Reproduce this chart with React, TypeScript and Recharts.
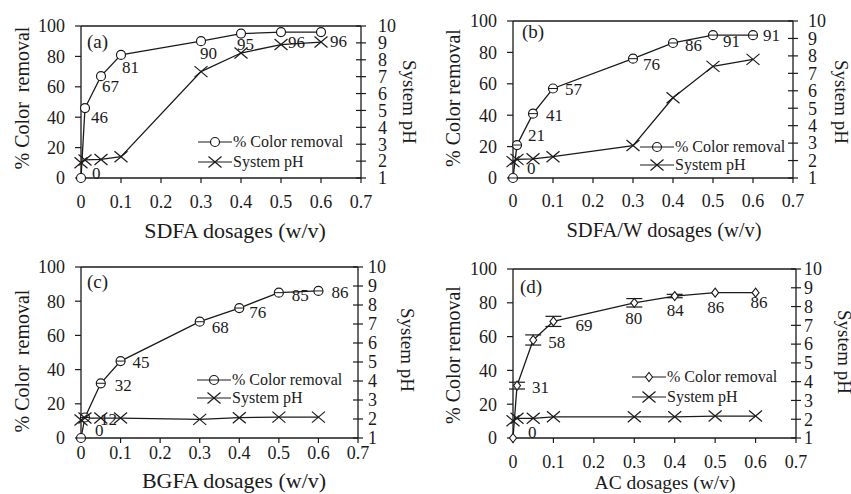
import React from "react";
import {
  LineChart,
  Line,
  XAxis,
  YAxis,
  ReferenceLine,
  LabelList,
  Label,
  Legend,
  ErrorBar,
} from "recharts";

const FONT = "Liberation Serif, DejaVu Serif, serif";
const INK = "#1b1b1b";

// shared axes
const DOSE = [0, 0.01, 0.05, 0.1, 0.3, 0.4, 0.5, 0.6];
const DOSE_TICKS = [0, 0.1, 0.2, 0.3, 0.4, 0.5, 0.6, 0.7];
const REMOVAL_TICKS = [0, 20, 40, 60, 80, 100];
const PH_TICKS = [1, 2, 3, 4, 5, 6, 7, 8, 9, 10];

// (a) SDFA
const SDFA_REMOVAL = [0, 46, 67, 81, 90, 95, 96, 96];
const SDFA_PH = [1.9, 2.07, 2.1, 2.26, 7.3, 8.4, 8.9, 9.05];
// (b) SDFA/W
const SDFAW_REMOVAL = [0, 21, 41, 57, 76, 86, 91, 91];
const SDFAW_PH = [1.94, 2.07, 2.1, 2.22, 2.86, 5.6, 7.4, 7.8];
// (c) BGFA
const BGFA_REMOVAL = [0, 12, 32, 45, 68, 76, 85, 86];
const BGFA_PH = [1.95, 2.05, 2.05, 2.05, 1.98, 2.07, 2.1, 2.1];
// (d) AC
const AC_REMOVAL = [0, 31, 58, 69, 80, 84, 86, 86];
const AC_ERROR = [0, 2, 3, 3, 2.5, 1, 0, 0];
const AC_PH = [1.92, 2.05, 2.05, 2.13, 2.13, 2.13, 2.17, 2.17];

type Marker = "circle" | "circleBar" | "diamond";

interface PanelCfg {
  letter: string;
  xTitle: string;
  yTitle: string;
  removal: number[];
  ph: number[];
  err?: number[];
  marker: Marker;
  left: number;
  top: number;
  width: number;
  height: number;
  mTop: number;
  rightW: number;
  xH: number;
  xTickMargin: number;
  rightGap: number;
  xTitlePos: [number, number, number];
  yTitlePos: [number, number];
  rTitlePos: [number, number];
  legendPos: [number, number, number];
  letterPos: [number, number];
  labelOffsets: number[][];
}

const PANELS: PanelCfg[] = [
  {
    letter: "(a)",
    xTitle: "SDFA dosages (w/v)",
    yTitle: "% Color  removal",
    removal: SDFA_REMOVAL,
    ph: SDFA_PH,
    marker: "circle",
    left: 0,
    top: 0,
    width: 428,
    height: 245,
    mTop: 26,
    rightW: 67,
    xH: 67,
    xTickMargin: 12,
    rightGap: 17,
    xTitlePos: [235, 230, 22],
    yTitlePos: [22, 98],
    rTitlePos: [410, 102],
    legendPos: [198, 132, 20],
    letterPos: [87, 31],
    labelOffsets: [
      [11, -5], [6, 9], [1, 10], [1, 12], [-1, 12], [-4, 10], [7, 10], [9, 9],
    ],
  },
  {
    letter: "(b)",
    xTitle: "SDFA/W dosages (w/v)",
    yTitle: "% Color removal",
    removal: SDFAW_REMOVAL,
    ph: SDFAW_PH,
    marker: "circleBar",
    left: 432,
    top: 0,
    width: 419,
    height: 245,
    mTop: 21,
    rightW: 58,
    xH: 67,
    xTickMargin: 11,
    rightGap: 15,
    xTitlePos: [232, 230, 20.5],
    yTitlePos: [21, 98],
    rTitlePos: [410, 102],
    legendPos: [208, 138, 18],
    letterPos: [90, 21],
    labelOffsets: [
      [14, -10], [11, -10], [13, 1], [12, 1], [10, 5], [12, 2], [10, 6], [10, 0],
    ],
  },
  {
    letter: "(c)",
    xTitle: "BGFA dosages (w/v)",
    yTitle: "% Color  removal",
    removal: BGFA_REMOVAL,
    ph: BGFA_PH,
    marker: "circleBar",
    left: 0,
    top: 250,
    width: 428,
    height: 244,
    mTop: 17,
    rightW: 70,
    xH: 56,
    xTickMargin: 3,
    rightGap: 10,
    xTitlePos: [234, 230, 22],
    yTitlePos: [22, 111],
    rTitlePos: [408, 100],
    legendPos: [197, 121, 18],
    letterPos: [87, 21],
    labelOffsets: [
      [14, -8], [15, 2], [14, 2], [12, 1], [12, 5], [10, 4], [13, 2], [13, 1],
    ],
  },
  {
    letter: "(d)",
    xTitle: "AC dosages (w/v)",
    yTitle: "% Color removal",
    removal: AC_REMOVAL,
    ph: AC_PH,
    err: AC_ERROR,
    marker: "diamond",
    left: 432,
    top: 250,
    width: 419,
    height: 244,
    mTop: 19,
    rightW: 55,
    xH: 56,
    xTickMargin: 12,
    rightGap: 8,
    xTitlePos: [233, 232, 19.5],
    yTitlePos: [21, 105],
    rTitlePos: [413, 102],
    legendPos: [200, 117, 20],
    letterPos: [88, 26],
    labelOffsets: [
      [15, -6], [15, 1], [15, 2], [22, 4], [-9, 15], [-8, 14], [-8, 14], [-5, 9],
    ],
  },
];

function RemovalMarker({ cx, cy, kind }: { cx: number; cy: number; kind: Marker }) {
  if (kind === "diamond") {
    return (
      <polygon
        points={`${cx},${cy - 4.5} ${cx + 3.5},${cy} ${cx},${cy + 4.5} ${cx - 3.5},${cy}`}
        fill="#fff"
        stroke={INK}
        strokeWidth={1.1}
      />
    );
  }
  return (
    <g>
      <circle cx={cx} cy={cy} r={4.5} fill="#fff" stroke={INK} strokeWidth={1.2} />
      {kind === "circleBar" && (
        <line x1={cx - 4.5} x2={cx + 4.5} y1={cy} y2={cy} stroke={INK} strokeWidth={1} />
      )}
    </g>
  );
}

function CrossMarker({ cx, cy }: { cx: number; cy: number }) {
  return (
    <g stroke={INK} strokeWidth={1.2}>
      <line x1={cx - 6.5} y1={cy - 5.5} x2={cx + 6.5} y2={cy + 5.5} />
      <line x1={cx - 6.5} y1={cy + 5.5} x2={cx + 6.5} y2={cy - 5.5} />
    </g>
  );
}

function Panel({ cfg }: { cfg: PanelCfg }) {
  const data = DOSE.map((d, i) => ({
    dose: d,
    removal: cfg.removal[i],
    ph: cfg.ph[i],
    err: cfg.err ? cfg.err[i] : 0,
  }));

  const rightTick = (props: any) => {
    const { x, y, payload } = props;
    const ax = x - cfg.rightGap;
    return (
      <g>
        <line x1={ax - 5} x2={ax + 5} y1={y} y2={y} stroke={INK} strokeWidth={1.2} />
        <text x={x} y={y} dy="0.35em" textAnchor="start" fontSize={18} fontFamily={FONT} fill={INK}>
          {payload.value}
        </text>
      </g>
    );
  };

  const valueLabel = (props: any) => {
    const { x, y, value, index } = props;
    const off = cfg.labelOffsets[index] ?? [8, 8];
    return (
      <text
        x={Number(x) + off[0]}
        y={Number(y) + off[1]}
        dy="0.35em"
        fontSize={17}
        fontFamily={FONT}
        fill={INK}
      >
        {value}
      </text>
    );
  };

  const tickStyle = { fontSize: 18, fontFamily: FONT, fill: INK };

  const legendContent = (props: any) => {
    const payload = props.payload || [];
    return (
      <div style={{ fontFamily: FONT, fontSize: 16, color: INK }}>
        {payload.map((p: any) => (
          <div
            key={p.dataKey}
            style={{ display: "flex", alignItems: "center", height: cfg.legendPos[2], whiteSpace: "nowrap" }}
          >
            <svg width={34} height={16} style={{ marginRight: 1 }}>
              <line x1={0} x2={34} y1={8} y2={8} stroke={INK} strokeWidth={1.2} />
              {p.dataKey === "ph" ? (
                <CrossMarker cx={17} cy={8} />
              ) : (
                <RemovalMarker cx={17} cy={8} kind={cfg.marker} />
              )}
            </svg>
            <span>{p.value}</span>
          </div>
        ))}
      </div>
    );
  };

  return (
    <div style={{ position: "absolute", left: cfg.left, top: cfg.top, width: cfg.width, height: cfg.height }}>
      <LineChart
        width={cfg.width}
        height={cfg.height}
        data={data}
        margin={{ top: cfg.mTop, right: 0, left: 0, bottom: 0 }}
        style={{ fontFamily: FONT }}
      >
        <XAxis
          dataKey="dose"
          type="number"
          domain={[0, 0.7]}
          ticks={DOSE_TICKS}
          interval={0}
          tickFormatter={(v: number) => String(v)}
          height={cfg.xH}
          tick={tickStyle}
          tickSize={5}
          tickMargin={cfg.xTickMargin}
          axisLine={{ stroke: INK, strokeWidth: 1.3 }}
          tickLine={{ stroke: INK, strokeWidth: 1.2 }}
        >
          <Label
            content={() => (
              <text
                x={cfg.xTitlePos[0]}
                y={cfg.xTitlePos[1]}
                dy="0.35em"
                textAnchor="middle"
                fontSize={cfg.xTitlePos[2]}
                fontFamily={FONT}
                fill={INK}
              >
                {cfg.xTitle}
              </text>
            )}
          />
        </XAxis>
        <YAxis
          yAxisId="left"
          domain={[0, 100]}
          ticks={REMOVAL_TICKS}
          interval={0}
          width={81}
          tick={tickStyle}
          tickSize={6}
          tickMargin={10}
          axisLine={{ stroke: INK, strokeWidth: 1.3 }}
          tickLine={{ stroke: INK, strokeWidth: 1.2 }}
        >
          <Label
            content={() => (
              <text
                x={cfg.yTitlePos[0]}
                y={cfg.yTitlePos[1]}
                dy="0.35em"
                textAnchor="middle"
                transform={`rotate(-90 ${cfg.yTitlePos[0]} ${cfg.yTitlePos[1]})`}
                fontSize={20}
                fontFamily={FONT}
                fill={INK}
                style={{ whiteSpace: "pre" }}
              >
                {cfg.yTitle}
              </text>
            )}
          />
        </YAxis>
        <YAxis
          yAxisId="right"
          orientation="right"
          domain={[1, 10]}
          ticks={PH_TICKS}
          interval={0}
          width={cfg.rightW}
          tick={rightTick}
          tickSize={0}
          tickMargin={cfg.rightGap}
          tickLine={false}
          axisLine={{ stroke: INK, strokeWidth: 1.3 }}
        >
          <Label
            content={() => (
              <text
                x={cfg.rTitlePos[0]}
                y={cfg.rTitlePos[1]}
                dy="0.35em"
                textAnchor="middle"
                transform={`rotate(90 ${cfg.rTitlePos[0]} ${cfg.rTitlePos[1]})`}
                fontSize={19}
                fontFamily={FONT}
                fill={INK}
              >
                System pH
              </text>
            )}
          />
        </YAxis>
        <ReferenceLine yAxisId="left" y={100} stroke={INK} strokeWidth={1.3} />
        <Line
          yAxisId="left"
          type="linear"
          dataKey="removal"
          name="% Color removal"
          stroke={INK}
          strokeWidth={1.3}
          isAnimationActive={false}
          dot={(p: any) => <RemovalMarker key={`r-${p.index}`} cx={p.cx} cy={p.cy} kind={cfg.marker} />}
        >
          {cfg.err && <ErrorBar dataKey="err" direction="y" width={8} stroke={INK} strokeWidth={1.2} />}
          <LabelList dataKey="removal" content={valueLabel} />
        </Line>
        <Line
          yAxisId="right"
          type="linear"
          dataKey="ph"
          name="System pH"
          stroke={INK}
          strokeWidth={1.3}
          isAnimationActive={false}
          dot={(p: any) => <CrossMarker key={`p-${p.index}`} cx={p.cx} cy={p.cy} />}
        />
        <Legend
          layout="vertical"
          align="center"
          verticalAlign="middle"
          content={legendContent}
          wrapperStyle={{
            left: cfg.legendPos[0],
            top: cfg.legendPos[1],
            width: "auto",
            height: "auto",
          }}
        />
      </LineChart>
      <div
        style={{
          position: "absolute",
          left: cfg.letterPos[0],
          top: cfg.letterPos[1],
          fontFamily: FONT,
          fontSize: 19,
          lineHeight: "22px",
          color: INK,
        }}
      >
        {cfg.letter}
      </div>
    </div>
  );
}

export default function App() {
  return (
    <div
      style={{
        position: "absolute",
        left: 0,
        top: 0,
        width: 851,
        height: 494,
        background: "#fff",
        overflow: "hidden",
        fontFamily: FONT,
      }}
    >
      {PANELS.map((p) => (
        <Panel key={p.letter} cfg={p} />
      ))}
    </div>
  );
}
